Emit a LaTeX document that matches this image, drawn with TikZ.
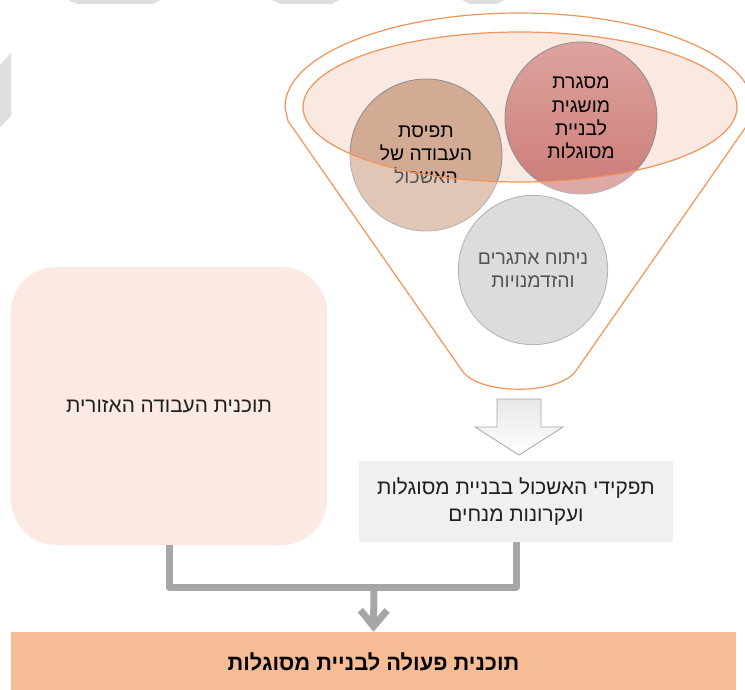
\documentclass[tikz,border=0pt]{standalone}
\usepackage{fontspec}
\usetikzlibrary{arrows.meta,shapes.geometric}
\TeXXeTstate=1
\newfontfamily\heb[Script=Hebrew]{Liberation Sans}
\newcommand{\hb}[1]{\beginR #1\endR}
\definecolor{funnelorange}{HTML}{F0945A}
\definecolor{rimfill}{HTML}{FAE9E1}
\definecolor{redtop}{HTML}{DDA39E}
\definecolor{redbottom}{HTML}{CD7C77}
\definecolor{brownfill}{HTML}{D3AA93}
\definecolor{greyfill}{HTML}{CBCBCB}
\definecolor{leftfill}{HTML}{FAEAE3}
\definecolor{rightfill}{HTML}{F0F0F0}
\definecolor{barfill}{HTML}{F5BC96}
\definecolor{connfill}{HTML}{A6A6A6}
\definecolor{markgrey}{HTML}{DEDEDE}
\begin{document}
\begin{tikzpicture}[x=0.75pt,y=-0.75pt,
  bubble/.style={circle,draw=black!45,line width=0.6pt,inner sep=0pt,minimum size=114pt,align=center,
     font=\heb\fontsize{14.5}{17.5}\selectfont},
  txt/.style={font=\heb\fontsize{15.6}{20.25}\selectfont,align=center,text=black!88},
  conn/.style={draw=connfill,line width=5.25pt,line join=round},
  outline/.style={draw=funnelorange,line width=0.9pt}]
\useasboundingbox (0,0) rectangle (745,689);
\clip (0,0) rectangle (745,689);
% faint grey marks along the edges
\fill[markgrey] (68,0) -- (160,0) -- (153,4) -- (77,4) -- cycle;
\fill[markgrey] (272,0) -- (339,0) -- (332,4) -- (281,4) -- cycle;
\fill[markgrey] (462,0) -- (504,0) -- (497,4) -- (470,4) -- cycle;
\fill[markgrey] (0,65) -- (11,53) -- (11,116) -- (0,127) -- cycle;
% funnel rim
\fill[rimfill] (520,107) ellipse [x radius=162.75pt, y radius=56.25pt];
% circles
\node[bubble,top color=redtop,bottom color=redbottom] (frame) at (581,118)
  {\hb{מסגרת}\\\hb{מושגית}\\\hb{לבניית}\\\hb{מסוגלות}};
\node[bubble,fill=brownfill] (view) at (426,155)
  {\hb{תפיסת}\\\hb{העבודה של}\\\hb{האשכול}};
\node[bubble,fill=greyfill,minimum size=112pt] (swot) at (533,270)
  {\hb{ניתוח אתגרים}\\\hb{והזדמנויות}};
% funnel body veil
\def\funnelpath{(285,107) arc[start angle=180,end angle=0,x radius=175.5pt,y radius=70.5pt]
  -- (750,121) -- (575,372) .. controls (556,395) and (482,395) .. (463,372) -- (288,121) -- cycle}
\fill[white,fill opacity=0.33,even odd rule] \funnelpath (520,107) ellipse [x radius=162.75pt, y radius=56.25pt];
\draw[outline] (520,107) ellipse [x radius=162.75pt, y radius=56.25pt];
\draw[outline,line join=round] \funnelpath;
% block arrow
\draw[draw=black!35,line width=0.6pt,top color=black!9,bottom color=white]
  (497,399) -- (541,399) -- (541,427) -- (563,427) -- (519,455) -- (475,427) -- (497,427) -- cycle;
% boxes
\node[txt,fill=rightfill,minimum width=235.5pt,minimum height=60.75pt,inner sep=0pt] (roles) at (516,501.5)
  {\hb{תפקידי האשכול בבניית מסוגלות}\\\hb{ועקרונות מנחים}};
\node[txt,fill=leftfill,rounded corners=34pt,minimum width=237pt,minimum height=208.5pt,inner sep=0pt] (plan) at (169,406)
  {\hb{תוכנית העבודה האזורית}};
\node[fill=barfill,minimum width=543.75pt,minimum height=45pt,inner sep=0pt,
  font=\heb\bfseries\fontsize{16.4}{19}\selectfont] (bar) at (373.5,662)
  {\hb{תוכנית פעולה לבניית מסוגלות}};
% connectors
\coordinate (join) at (374,587);
\draw[conn] (plan.south) |- (join) -| (roles.south);
\draw[conn,-{Straight Barb[length=12pt,width=20pt]}] (join) -- (bar.north);
\end{tikzpicture}
\end{document}
